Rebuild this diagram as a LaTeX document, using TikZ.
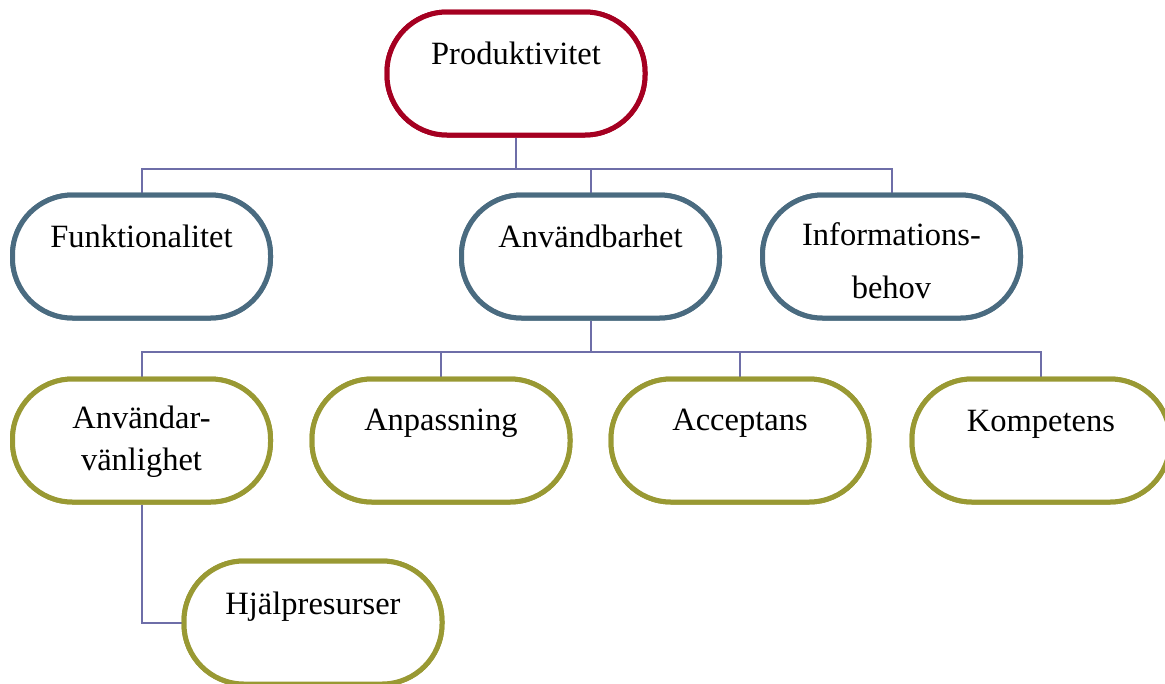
\documentclass[tikz,border=0pt]{standalone}
\usepackage{fontspec}
\setmainfont{Liberation Serif}
\definecolor{cRed}{HTML}{A50021}
\definecolor{cBlue}{HTML}{4A6B80}
\definecolor{cOlive}{HTML}{999933}
\definecolor{cLine}{HTML}{6E6EA8}
\begin{document}
\begin{tikzpicture}[x=1pt,y=-1pt,
  pill/.style={draw, line width=5pt, rounded corners=60pt, minimum width=258pt, minimum height=123pt, inner sep=0pt, fill=white},
  redpill/.style={pill, draw=cRed},
  bluepill/.style={pill, draw=cBlue},
  olivepill/.style={pill, draw=cOlive},
  lbl/.style={anchor=base, align=center, inner sep=0pt, font=\fontsize{32.5}{42}\selectfont},
  conn/.style={draw=cLine, line width=2pt}]
\useasboundingbox (0,0) rectangle (1165,683);
\clip (0,0) rectangle (1165,683);
\coordinate (j1) at (516,169);
\coordinate (j2) at (590.5,352);
\node[redpill] (prod) at (516,73.5) {};
\node[bluepill] (funk) at (141.5,256.5) {};
\node[bluepill] (anv) at (590.5,256.5) {};
\node[bluepill] (info) at (891.5,256.5) {};
\node[olivepill] (avl) at (141.5,440.5) {};
\node[olivepill] (anp) at (441,440.5) {};
\node[olivepill] (acc) at (740,440.5) {};
\node[olivepill] (komp) at (1041,440.5) {};
\node[olivepill] (hjalp) at (313,622.5) {};
\draw[conn] (prod.south) -- (j1);
\draw[conn] (j1) -| (funk.north);
\draw[conn] (j1) -| (anv.north);
\draw[conn] (j1) -| (info.north);
\draw[conn] (anv.south) -- (j2);
\draw[conn] (j2) -| (avl.north);
\draw[conn] (j2) -| (anp.north);
\draw[conn] (j2) -| (acc.north);
\draw[conn] (j2) -| (komp.north);
\draw[conn] (avl.south) |- (hjalp.west);
% redraw boxes over connector ends
\node[redpill] at (prod) {};
\node[bluepill] at (funk) {};
\node[bluepill] at (anv) {};
\node[bluepill] at (info) {};
\node[olivepill] at (avl) {};
\node[olivepill] at (anp) {};
\node[olivepill] at (acc) {};
\node[olivepill] at (komp) {};
\node[olivepill] at (hjalp) {};
% labels
\node[lbl] (tprod) at ([yshift=-55pt]prod.north) {Produktivitet};
\node[lbl] (tfunk) at ([yshift=-55pt]funk.north) {Funktionalitet};
\node[lbl] (tanv) at ([yshift=-55pt]anv.north) {Användbarhet};
\node[lbl] (tinfo) at ([yshift=-106pt]info.north) {Informations-\\[11pt]behov};
\node[lbl] (tavl) at ([yshift=-94pt]avl.north) {Användar-\\vänlighet};
\node[lbl] (tanp) at ([yshift=-54pt]anp.north) {Anpassning};
\node[lbl] (tacc) at ([yshift=-54pt]acc.north) {Acceptans};
\node[lbl] (tkomp) at ([yshift=-55pt]komp.north) {Kompetens};
\node[lbl] (thjalp) at ([yshift=-56pt]hjalp.north) {Hjälpresurser};
\end{tikzpicture}
\end{document}
